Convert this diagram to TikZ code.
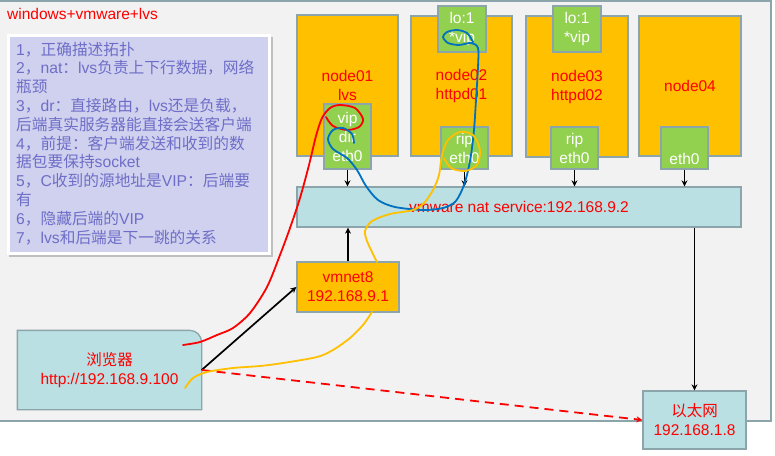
\documentclass[tikz,border=0pt]{standalone}
\usepackage{fontspec}
\setmainfont{Liberation Sans}
\newfontfamily\cjk{Noto Sans CJK SC}
\usetikzlibrary{arrows.meta}
\definecolor{bggray}{HTML}{F2F2F2}
\definecolor{frame}{HTML}{8CA5AB}
\definecolor{orangeA}{HTML}{FFC000}
\definecolor{greenA}{HTML}{92D050}
\definecolor{lightblueA}{HTML}{BBE0E3}
\definecolor{lavender}{HTML}{D0D0EF}
\definecolor{slate}{HTML}{6E6EC8}
\definecolor{blueA}{HTML}{0070C0}
\newcommand\fsz{\fontsize{15.5}{19}\selectfont}
\tikzset{
  box/.style={draw=frame, line width=1.3pt, inner sep=0pt, align=center, font=\fsz, anchor=center},
  orangebox/.style={box, fill=orangeA, text=red},
  greenbox/.style={box, fill=greenA, text=white},
  bluebox/.style={box, fill=lightblueA, text=red},
  arr/.style={-{Stealth[length=6pt,width=6pt]}, line width=1.7pt, black},
  freehand/.style={line width=1.8pt, line cap=round, line join=round}
}
\begin{document}
\begin{tikzpicture}[x=1pt,y=-1pt]
\useasboundingbox (0,0) rectangle (775,455);
\fill[white] (0,0) rectangle (775,455);
% main area
\draw[fill=bggray, draw=frame, line width=1.5pt] (-3,1) rectangle (771,421);
% title
\node[anchor=base west, inner sep=0pt, text=red, font=\fsz] (title) at (7,19) {windows+vmware+lvs};
% note box
\fill[black!25] (9,37) rectangle (273,257);
\draw[fill=lavender, draw=white, line width=3pt] (8.5,35) rectangle (269.5,253.5);
\node[anchor=base west, inner sep=0pt, align=left, text=slate, font=\fontsize{15.7}{18.8}\selectfont] (notes) at (16,243) {%
1{\cjk ，正确描述拓扑}\\
2{\cjk ，}nat{\cjk ：}lvs{\cjk 负责上下行数据，网络}\\
{\cjk 瓶颈}\\
3{\cjk ，}dr{\cjk ：直接路由，}lvs{\cjk 还是负载，}\\
{\cjk 后端真实服务器能直接会送客户端}\\
4{\cjk ，前提：客户端发送和收到的数}\\
{\cjk 据包要保持}socket\\
5{\cjk ，}C{\cjk 收到的源地址是}VIP{\cjk ：后端要}\\
{\cjk 有}\\
6{\cjk ，隐藏后端的}VIP\\
7{\cjk ，}lvs{\cjk 和后端是下一跳的关系}};
% server nodes
\node[orangebox, minimum width=101pt, minimum height=141pt] (n1) at (347.5,85.5) {node01\\lvs};
\node[orangebox, minimum width=101pt, minimum height=140pt] (n2) at (461.5,86) {node02\\httpd01};
\node[orangebox, minimum width=102pt, minimum height=141pt] (n3) at (577,86.5) {node03\\httpd02};
\node[orangebox, minimum width=102pt, minimum height=140pt] (n4) at (690,86) {node04};
% green interfaces
\node[greenbox, minimum width=47pt, minimum height=65pt] (g1) at (347.5,136.5) {vip\\dir\\eth0};
\node[greenbox, minimum width=48pt, minimum height=46pt] (lo2) at (462,29) {lo:1\\*vip};
\node[greenbox, minimum width=47pt, minimum height=42pt] (g2) at (464.5,148) {rip\\eth0};
\node[greenbox, minimum width=48pt, minimum height=46pt] (lo3) at (577,29) {lo:1\\*vip};
\node[greenbox, minimum width=47pt, minimum height=42pt] (g3) at (574.5,148) {rip\\eth0};
\node[greenbox, minimum width=47pt, minimum height=42pt] (g4) at (684.5,148) {\strut\\eth0};
% nat service
\node[bluebox, minimum width=444pt, minimum height=40pt] (nat) at (519,207) {vmware nat service:192.168.9.2};
% vmnet8
\node[orangebox, minimum width=102pt, minimum height=50pt] (vm) at (348,287) {vmnet8\\192.168.9.1};
% browser
\node[box, draw=none, text=red, minimum width=183pt, minimum height=78pt] (br) at (109.5,370) {};
\draw[draw=frame, fill=lightblueA, line width=1.3pt] (br.south west) -- (br.north west) -- ([xshift=-12pt]br.north east) arc[start angle=90, end angle=0, radius=12pt] -- (br.south east) -- cycle;
\node[box, draw=none, text=red] (brt) at (br.center) {{\cjk 浏览器}\\http://192.168.9.100};
% ethernet
\node[bluebox, minimum width=103pt, minimum height=58pt] (eth) at (694.5,420) {{\cjk 以太网}\\192.168.1.8};
% arrows
\draw[arr] (g1.south) -- (g1.south |- nat.north);
\draw[arr] (g2.south) -- (g2.south |- nat.north);
\draw[arr] (g3.south) -- (g3.south |- nat.north);
\draw[arr] (g4.south) -- (g4.south |- nat.north);
\draw[arr] (vm.north) -- (vm.north |- nat.south);
\draw[arr] (eth.north |- nat.south) -- (eth.north);
\draw[arr] (br.east) -- (vm.west);
\draw[-{Stealth[length=6pt,width=6pt]}, red, line width=1.8pt, dash pattern=on 9pt off 6pt] (br.east) -- (eth.west);
% freehand strokes
\draw[freehand, red] plot[smooth] coordinates {(183,345) (200,342) (217,335) (233,328) (250,313) (267,287) (280,255) (290,228) (300,198) (309,165) (316,136) (322,118) (330,108) (340,105) (355,108) (363,119) (359,127) (347,130) (333,126) (326,117)};
\draw[freehand, blueA] plot[smooth] coordinates {(354,143) (352,134) (343,128) (333,130) (328,139) (333,149) (347,158) (357,170) (366,186) (378,200) (395,207) (423,210) (443,208) (455,202) (462,190) (467,175) (471,155) (474,130) (476,100) (478,67) (478,48) (471,43) (459,45) (448,43) (443,37) (447,32) (457,30) (467,33) (473,42)};
\draw[freehand, orangeA] plot[smooth] coordinates {(185,388) (193,378) (207,372) (233,368) (260,366) (283,363) (317,357) (333,350) (350,338) (363,325) (372,312)};
\draw[freehand, orangeA] plot[smooth] coordinates {(377,262) (372,252) (367,241) (365,231) (372,221) (390,214) (413,210) (424,203) (433,190) (439,175) (442,155) (448,140) (460,132) (473,135) (480,150) (477,165) (465,171) (451,168) (444,158)};
\end{tikzpicture}
\end{document}
